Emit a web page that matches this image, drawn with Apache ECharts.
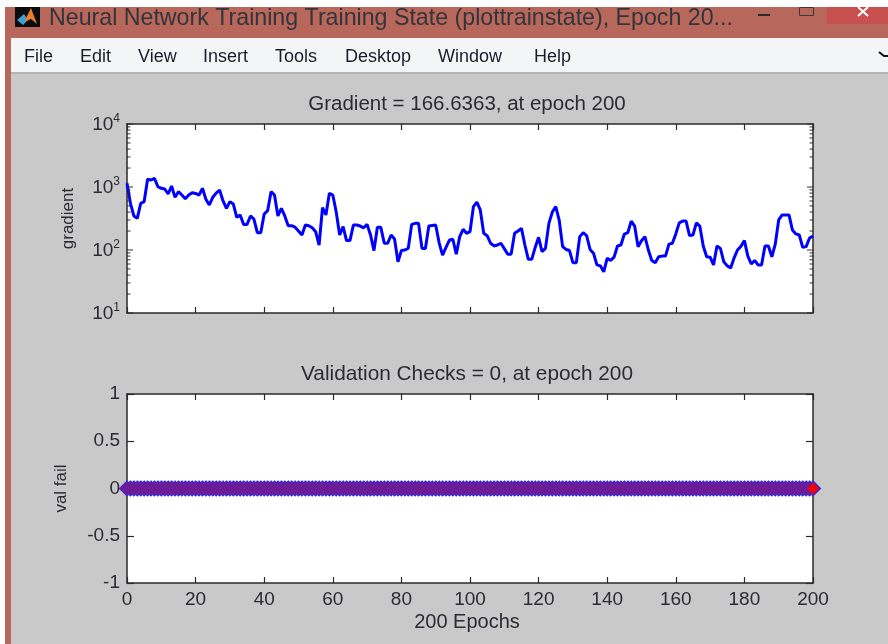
<!DOCTYPE html>
<html><head><meta charset="utf-8">
<style>html,body{margin:0;padding:0;background:#c9c9c9}#c{width:888px;height:644px}</style>
<script src="https://cdn.jsdelivr.net/npm/echarts@6/dist/echarts.min.js"></script>
</head><body><div id="c"></div>
<script>
const windowTitle = 'Neural Network Training Training State (plottrainstate), Epoch 20...';
const menuItems = ['File','Edit','View','Insert','Tools','Desktop','Window','Help'];
const menuLefts = [24,80,138,203,275,345,438,534];
const gradientTitle = 'Gradient = 166.6363, at epoch 200';
const valTitle = 'Validation Checks = 0, at epoch 200';
const xName = '200 Epochs';
const gradientName = 'gradient';
const valName = 'val fail';
const gradientValues = [
1143,551,347,318,551,585,1324,1291,1375,1012,
953,930,774,1038,686,843,746,653,746,813,
790,746,953,640,518,686,800,896,600,458,
585,537,330,360,255,255,347,310,188,188,
372,421,843,746,347,458,347,243,243,230,
200,173,249,243,225,195,120,470,360,793,
746,400,173,235,141,141,249,249,240,225,
255,173,98,229,229,128,128,173,150,65,
98,100,106,255,265,265,106,106,240,245,
249,130,83,110,144,148,86,163,213,184,
195,488,575,432,184,169,128,116,120,128,
105,86,86,184,200,221,120,71,71,110,
159,94,106,265,400,488,299,113,102,98,
63,63,163,188,169,102,89,58,56,45,
74,68,77,116,120,179,188,288,240,113,
140,163,100,68,63,78,80,80,124,128,
180,270,288,288,169,173,270,240,116,78,
77,58,116,106,65,56,52,75,100,115,
141,80,60,68,58,58,116,116,78,124,
300,360,360,360,208,180,173,110,113,155,
166.6363];
const valFailValues = [
0,0,0,0,0,0,0,0,0,0,0,0,0,0,0,0,0,0,0,0,
0,0,0,0,0,0,0,0,0,0,0,0,0,0,0,0,0,0,0,0,
0,0,0,0,0,0,0,0,0,0,0,0,0,0,0,0,0,0,0,0,
0,0,0,0,0,0,0,0,0,0,0,0,0,0,0,0,0,0,0,0,
0,0,0,0,0,0,0,0,0,0,0,0,0,0,0,0,0,0,0,0,
0,0,0,0,0,0,0,0,0,0,0,0,0,0,0,0,0,0,0,0,
0,0,0,0,0,0,0,0,0,0,0,0,0,0,0,0,0,0,0,0,
0,0,0,0,0,0,0,0,0,0,0,0,0,0,0,0,0,0,0,0,
0,0,0,0,0,0,0,0,0,0,0,0,0,0,0,0,0,0,0,0,
0,0,0,0,0,0,0,0,0,0,0,0,0,0,0,0,0,0,0,0,
0];
const finalEpoch = 200;
const finalValFail = 0;
const decadeTicks = [10,100,1000,10000];
const minorTickValues = [20,30,40,50,60,70,80,90,200,300,400,500,600,700,800,900,2000,3000,4000,5000,6000,7000,8000,9000];

const F = '"Liberation Sans",Arial,sans-serif';
const TXT = '#2b2b33';
const AX = '#2a2a2a';
const axisLine = {show:true,onZero:false,lineStyle:{color:AX,width:1.5}};

function makeX(i, pos, labels){
  return {
    type:'value',gridIndex:i,position:pos,min:0,max:200,interval:20,
    axisLine:axisLine,
    axisTick:{show:true,inside:true,length:6,lineStyle:{color:AX,width:1.2}},
    axisLabel:labels ? {show:true,color:TXT,fontFamily:F,fontSize:19,margin:7} : {show:false},
    splitLine:{show:false},
    name:labels ? xName : '',
    nameLocation:'middle',nameGap:29,
    nameTextStyle:{color:TXT,fontFamily:F,fontSize:20,padding:[0,6,0,0]}
  };
}
function makeLog(pos){
  return {
    type:'log',logBase:10,gridIndex:0,position:pos,min:10,max:10000,
    axisLine:axisLine,splitLine:{show:false},minorTick:{show:false},
    axisTick:{show:false},
    axisLabel:{show:false}
  };
}
function makeLin(pos){
  return {
    type:'value',gridIndex:1,position:pos,min:-1,max:1,interval:0.5,
    axisLine:axisLine,splitLine:{show:false},
    axisTick:{show:true,inside:true,length:7,lineStyle:{color:AX,width:1.2}},
    axisLabel:{show:false}
  };
}
const yLogLeft = makeLog('left');
yLogLeft.axisLabel = {
  show:true,margin:7,customValues:decadeTicks,color:TXT,fontFamily:F,
  formatter:function(v){ return '{b|10}{s|'+Math.round(Math.log10(v))+'}'; },
  rich:{
    b:{fontSize:19,fontFamily:F,color:TXT,padding:[2,0,0,0]},
    s:{fontSize:12,fontFamily:F,color:TXT,padding:[0,0,10,0]}
  }
};
yLogLeft.name = gradientName;
yLogLeft.nameLocation = 'middle';
yLogLeft.nameGap = 50;
yLogLeft.nameTextStyle = {color:TXT,fontFamily:F,fontSize:17};

const yLinLeft = makeLin('left');
yLinLeft.axisLabel = {show:true,margin:7,color:TXT,fontFamily:F,fontSize:19,
  formatter:function(v){ return String(v); }};
yLinLeft.name = valName;
yLinLeft.nameLocation = 'middle';
yLinLeft.nameGap = 57;
yLinLeft.nameTextStyle = {color:TXT,fontFamily:F,fontSize:17};

function tickSeries(values, epoch, len){
  const off = epoch === 0 ? len/2 : -len/2;
  return {type:'scatter',xAxisIndex:0,yAxisIndex:0,silent:true,clip:false,z:4,
    symbol:'rect',symbolSize:[len,1.2],symbolOffset:[off,0],
    itemStyle:{color:AX},
    data:values.map(function(v){return [epoch,v];})};
}

function tx(text,x,y,size,color){
  return {type:'text',silent:true,style:{text:text,x:x,y:y,fontFamily:F,fontSize:size,fill:color,textVerticalAlign:'middle'}};
}
function rc(x,y,w,h,fill){
  return {type:'rect',silent:true,shape:{x:x,y:y,width:w,height:h},style:{fill:fill}};
}
const chrome = [
  rc(0,0,888,7,'#ffffff'),
  rc(0,0,5,644,'#ffffff'),
  rc(5,7,883,31,'#b8685a'),
  rc(5,38,6,606,'#b8685a'),
  rc(11,38,877,34,'#f4f5f7'),
  rc(11,72,877,2,'#b4b4b4'),
  rc(827,7,61,17,'#c8504f'),
  rc(15,7,25,20,'#0c0c0c'),
  {type:'polygon',silent:true,shape:{points:[[17,20],[24,14],[28,20],[23,25]]},style:{fill:'#3aa0d8'}},
  {type:'polygon',silent:true,shape:{points:[[24,22],[31,8],[37,24],[31,19]]},style:{fill:'#e8802a'}},
  tx(windowTitle,49,19,23.2,'#33333d'),
  rc(758,14,12,2,'#2a2a2a'),
  {type:'rect',silent:true,shape:{x:799.5,y:7.5,width:14,height:8},style:{fill:'none',stroke:'#3a3a3a',lineWidth:1}},
  {type:'polyline',silent:true,shape:{points:[[858,7],[868,16]]},style:{stroke:'#ffffff',lineWidth:2}},
  {type:'polyline',silent:true,shape:{points:[[868,7],[858,16]]},style:{stroke:'#ffffff',lineWidth:2}},
  {type:'polyline',silent:true,shape:{points:[[879,52],[884,56],[888,56]]},style:{stroke:'#111111',lineWidth:2,fill:'none'}}
];
menuItems.forEach(function(m,i){ chrome.push(tx(m,menuLefts[i],57,18,'#1c1c28')); });

const chart = echarts.init(document.getElementById('c'),null,{renderer:'canvas'});
chart.setOption({
  animation:false,
  backgroundColor:'#c9c9c9',
  title:[
    {text:gradientTitle,left:462,top:89,textAlign:'center',textStyle:{color:TXT,fontFamily:F,fontSize:20.5,fontWeight:'normal'}},
    {text:valTitle,left:462,top:359,textAlign:'center',textStyle:{color:TXT,fontFamily:F,fontSize:20.8,fontWeight:'normal'}}
  ],
  grid:[
    {left:127,width:686,top:124,height:189,show:true,backgroundColor:'#ffffff',borderWidth:0},
    {left:127,width:686,top:394,height:189,show:true,backgroundColor:'#ffffff',borderWidth:0}
  ],
  xAxis:[makeX(0,'bottom',false),makeX(0,'top',false),makeX(1,'bottom',true),makeX(1,'top',false)],
  yAxis:[yLogLeft,makeLog('right'),yLinLeft,makeLin('right')],
  graphic:chrome,
  series:[
    tickSeries(decadeTicks,0,6),
    tickSeries(decadeTicks,200,6),
    tickSeries(minorTickValues,0,3.5),
    tickSeries(minorTickValues,200,3.5),
    {type:'line',xAxisIndex:0,yAxisIndex:0,showSymbol:false,symbol:'none',z:3,
     lineStyle:{color:'#0000ff',width:3},
     data:gradientValues.map(function(v,i){return [i,v];})},
    {type:'line',xAxisIndex:2,yAxisIndex:2,symbol:'diamond',symbolSize:15,showSymbol:true,showAllSymbols:true,
     clip:false,lineStyle:{width:0},
     itemStyle:{color:'#b0103c',borderColor:'#2a2af0',borderWidth:1.2},
     data:valFailValues.map(function(v,i){return [i,v];})},
    {type:'scatter',xAxisIndex:2,yAxisIndex:2,symbol:'diamond',symbolSize:12,clip:false,z:5,
     itemStyle:{color:'#ff0000'},
     data:[[finalEpoch,finalValFail]]}
  ]
});
</script>
</body></html>
